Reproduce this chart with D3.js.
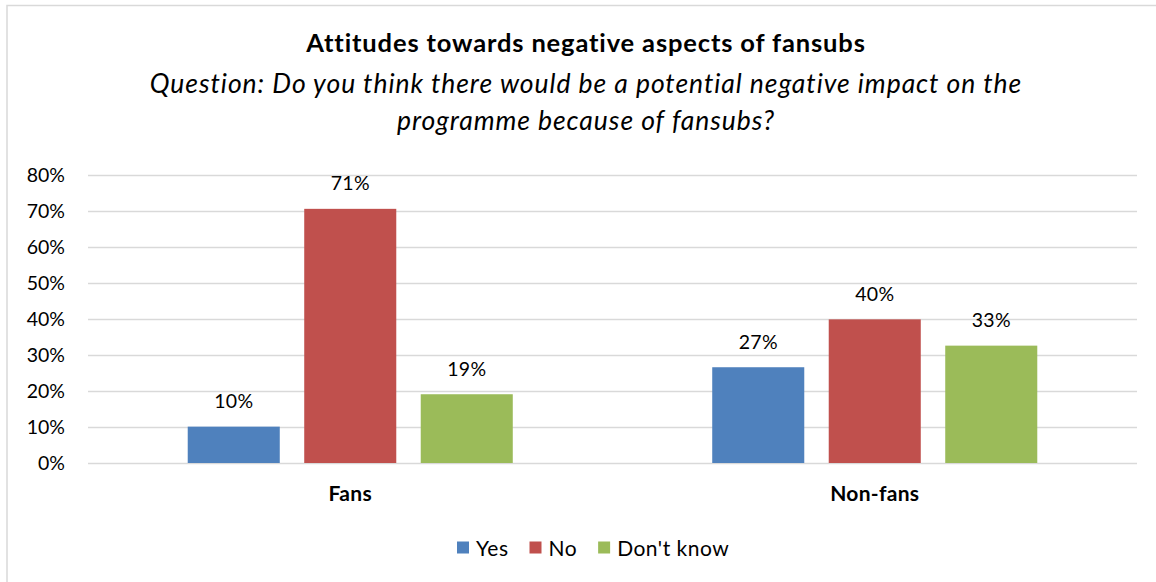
<!DOCTYPE html>
<html>
<head>
<meta charset="utf-8">
<script src="https://cdn.jsdelivr.net/npm/d3@7"></script>
<style>
  html, body { margin: 0; padding: 0; background: #fff; }
  svg { display: block; font-family: Lato, "Open Sans", sans-serif; }
</style>
</head>
<body>
<svg id="chart" width="1156" height="582"></svg>
<script>
// Survey answers by respondent group
const categories = ["Fans", "Non-fans"];
const seriesNames = ["Yes", "No", "Don't know"];
const seriesColors = ["#4F81BD", "#C0504D", "#9BBB59"];
const yesValues = [0.101, 0.266];
const noValues = [0.706, 0.399];
const dontKnowValues = [0.191, 0.326];
const yTicks = [0, 0.1, 0.2, 0.3, 0.4, 0.5, 0.6, 0.7, 0.8];

const titleText = "Attitudes towards negative aspects of fansubs";
const subtitleLines = [
  "Question: Do you think there would be a potential negative impact on the",
  "programme because of fansubs?"
];

const seriesValues = [yesValues, noValues, dontKnowValues];
const rows = categories.map((c, i) => ({
  category: c,
  values: seriesNames.map((s, j) => ({ series: s, value: seriesValues[j][i], color: seriesColors[j] }))
}));

const svg = d3.select("#chart");
const W = 1156, H = 582;
const plot = { left: 88, right: 1137, top: 175, bottom: 463 };

// chart area outline (only the top and left edges fall inside the frame)
svg.append("rect")
  .attr("x", 7).attr("y", 5.5)
  .attr("width", W).attr("height", H)
  .attr("fill", "none").attr("stroke", "#D9D9D9").attr("stroke-width", 1.5);

// titles
svg.append("text")
  .attr("x", 586).attr("y", 52)
  .attr("text-anchor", "middle")
  .attr("font-weight", "bold").attr("font-size", 25.5)
  .attr("letter-spacing", 0.85)
  .attr("fill", "#000")
  .text(titleText);

svg.selectAll("text.subtitle")
  .data(subtitleLines)
  .join("text")
  .attr("class", "subtitle")
  .attr("x", 586).attr("y", (d, i) => 93 + i * 37)
  .attr("text-anchor", "middle")
  .attr("font-style", "italic").attr("font-size", 26.5)
  .attr("letter-spacing", 0.95)
  .attr("fill", "#000")
  .text(d => d);

// scales
const y = d3.scaleLinear().domain([0, 0.8]).range([plot.bottom, plot.top]);
const x0 = d3.scaleBand().domain(categories).range([plot.left, plot.right]).padding(0);
const x1 = d3.scaleBand().domain(seriesNames).range([0, x0.bandwidth()])
  .paddingInner(0.21).paddingOuter(0.856);

// gridlines and percentage ticks
const yAxis = d3.axisLeft(y)
  .tickValues(yTicks)
  .tickSize(-(plot.right - plot.left))
  .tickPadding(23)
  .tickFormat(d3.format(".0%"));

const gAxis = svg.append("g")
  .attr("transform", `translate(${plot.left},0)`)
  .call(yAxis);
gAxis.select(".domain").remove();
gAxis.selectAll(".tick line").attr("stroke", "#D9D9D9").attr("stroke-width", 1.3);
gAxis.selectAll(".tick text")
  .attr("font-size", 19.5).attr("fill", "#000")
  .attr("font-family", "Lato, 'Open Sans', sans-serif");

// bars
const groups = svg.append("g").selectAll("g")
  .data(rows)
  .join("g")
  .attr("transform", d => `translate(${x0(d.category)},0)`);

groups.selectAll("rect")
  .data(d => d.values)
  .join("rect")
  .attr("x", d => x1(d.series))
  .attr("width", x1.bandwidth())
  .attr("y", d => y(d.value))
  .attr("height", d => y(0) - y(d.value))
  .attr("fill", d => d.color);

// value labels
groups.selectAll("text")
  .data(d => d.values)
  .join("text")
  .attr("x", d => x1(d.series) + x1.bandwidth() / 2)
  .attr("y", d => y(d.value) - 18.5)
  .attr("text-anchor", "middle")
  .attr("font-size", 19.5).attr("letter-spacing", 0.3).attr("fill", "#000")
  .text(d => Math.round(d.value * 100) + "%");

// category labels
svg.append("g").selectAll("text")
  .data(categories)
  .join("text")
  .attr("x", d => x0(d) + x0.bandwidth() / 2)
  .attr("y", 501)
  .attr("text-anchor", "middle")
  .attr("font-weight", "bold").attr("font-size", 21)
  .attr("letter-spacing", 0.3)
  .attr("fill", "#000")
  .text(d => d);

// legend
const legend = svg.append("g").attr("transform", "translate(457,0)");
let lx = 0;
seriesNames.forEach((name, i) => {
  legend.append("rect")
    .attr("x", lx).attr("y", 541.5)
    .attr("width", 12).attr("height", 12)
    .attr("fill", seriesColors[i]);
  const t = legend.append("text")
    .attr("x", lx + 19).attr("y", 555.5)
    .attr("font-size", 21).attr("letter-spacing", 0.5).attr("fill", "#000")
    .text(name);
  lx += 19 + t.node().getComputedTextLength() + 21;
});
</script>
</body>
</html>
